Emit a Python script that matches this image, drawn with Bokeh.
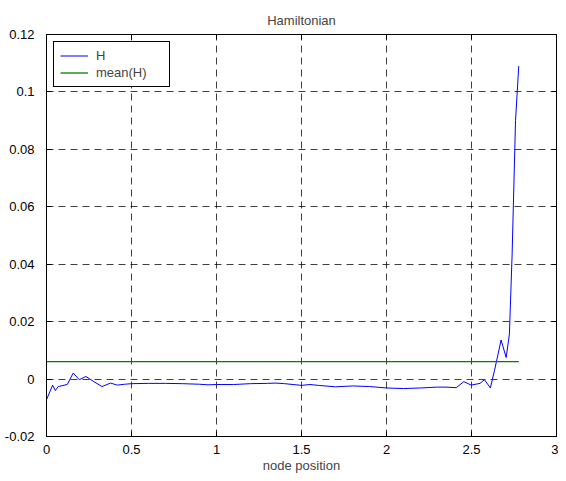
from bokeh.plotting import figure
from bokeh.models import Range1d, FixedTicker, LinearAxis
from bokeh.embed import file_html
from bokeh.resources import INLINE

# ---- data ----
node_x = [0.0, 0.036, 0.052, 0.069, 0.122, 0.157, 0.193, 0.232, 0.279, 0.326,
          0.377, 0.416, 0.46, 0.5, 0.6, 0.7, 0.8, 0.9, 0.95, 1.0,
          1.1, 1.2, 1.3, 1.35, 1.4, 1.5, 1.55, 1.6, 1.7, 1.8,
          1.9, 2.0, 2.1, 2.2, 2.3, 2.35, 2.41, 2.455, 2.498, 2.55,
          2.576, 2.611, 2.635, 2.674, 2.704, 2.723, 2.739, 2.759, 2.778]
H = [-0.0072, -0.0021, -0.0040, -0.0026, -0.0019, 0.0021, -0.0002, 0.0009, -0.0009, -0.0026,
     -0.0014, -0.0021, -0.0018, -0.0016, -0.0015, -0.0015, -0.0016, -0.0018, -0.0020, -0.0019,
     -0.0019, -0.0016, -0.0015, -0.0014, -0.0016, -0.0022, -0.0019, -0.0022, -0.0027, -0.0024,
     -0.0026, -0.0031, -0.0033, -0.0031, -0.0028, -0.0028, -0.0030, -0.0009, -0.0021, -0.0015,
     -0.0002, -0.0031, 0.0029, 0.0136, 0.0075, 0.0157, 0.0436, 0.090, 0.109]
mean_H = 0.0061

x_ticks = [0, 0.5, 1, 1.5, 2, 2.5, 3]
x_tick_labels = ["0", "0.5", "1", "1.5", "2", "2.5", "3"]
y_ticks = [-0.02, 0, 0.02, 0.04, 0.06, 0.08, 0.1, 0.12]
y_tick_labels = ["-0.02", "0", "0.02", "0.04", "0.06", "0.08", "0.1", "0.12"]

FONT = "Liberation Sans"
FS = "13px"

p = figure(frame_width=510, frame_height=402,
           x_range=Range1d(0, 3), y_range=Range1d(-0.02, 0.12),
           output_backend="svg", toolbar_location=None,
           title="Hamiltonian",
           min_border_left=46, min_border_right=2,
           min_border_top=34, min_border_bottom=38)

p.background_fill_color = "white"
p.border_fill_color = "white"
p.outline_line_color = "black"
p.outline_line_width = 1
p.outline_line_alpha = 1

p.title.text_font = FONT
p.title.text_font_size = FS
p.title.text_font_style = "normal"
p.title.align = "center"
p.title.standoff = 14

p.line(node_x, H, line_color="#0000ff", line_width=1, legend_label="H")
p.line([node_x[0], node_x[-1]], [mean_H, mean_H], line_color="#008000",
       line_width=1.3, legend_label="mean(H)")

for ax, ticks, labels in ((p.xaxis[0], x_ticks, x_tick_labels),
                          (p.yaxis[0], y_ticks, y_tick_labels)):
    ax.ticker = FixedTicker(ticks=ticks)
    ax.major_label_overrides = {t: l for t, l in zip(ticks, labels)}
    ax.major_tick_in = 5
    ax.major_tick_out = 0
    ax.minor_tick_in = 0
    ax.minor_tick_out = 0
    ax.axis_line_color = "black"
    ax.major_tick_line_color = "black"
    ax.major_label_text_font = FONT
    ax.major_label_text_font_size = FS
    ax.major_label_text_color = "black"

p.xaxis.major_label_standoff = 8
p.yaxis.major_label_standoff = 12
p.xaxis.axis_label = "node position"
p.xaxis.axis_label_text_font = FONT
p.xaxis.axis_label_text_font_size = FS
p.xaxis.axis_label_text_font_style = "normal"
p.xaxis.axis_label_standoff = 1

# tick marks on the top and right edges (labels blank)
for loc, ticks in (("above", x_ticks), ("right", y_ticks)):
    ax = LinearAxis(ticker=FixedTicker(ticks=ticks))
    ax.major_label_overrides = {t: "" for t in ticks}
    ax.major_tick_in = 5
    ax.major_tick_out = 0
    ax.minor_tick_in = 0
    ax.minor_tick_out = 0
    ax.major_label_standoff = 0
    ax.axis_line_color = "black"
    ax.major_tick_line_color = "black"
    p.add_layout(ax, loc)

for g, ticks in ((p.xgrid[0], x_ticks), (p.ygrid[0], y_ticks)):
    g.ticker = FixedTicker(ticks=ticks)
    g.grid_line_color = "black"
    g.grid_line_alpha = 0.75
    g.grid_line_dash = "7 5"
    g.grid_line_width = 1

lg = p.legend[0]
lg.location = "top_left"
lg.margin = 7
lg.padding = 6
lg.spacing = 2
lg.glyph_width = 28
lg.glyph_height = 13
lg.label_height = 13
lg.label_width = 67
lg.label_standoff = 8
lg.label_text_font = FONT
lg.label_text_font_size = FS
lg.border_line_color = "black"
lg.border_line_width = 1
lg.border_line_alpha = 1
lg.background_fill_color = "white"
lg.background_fill_alpha = 1

open("out.html", "w").write(file_html(p, INLINE))
